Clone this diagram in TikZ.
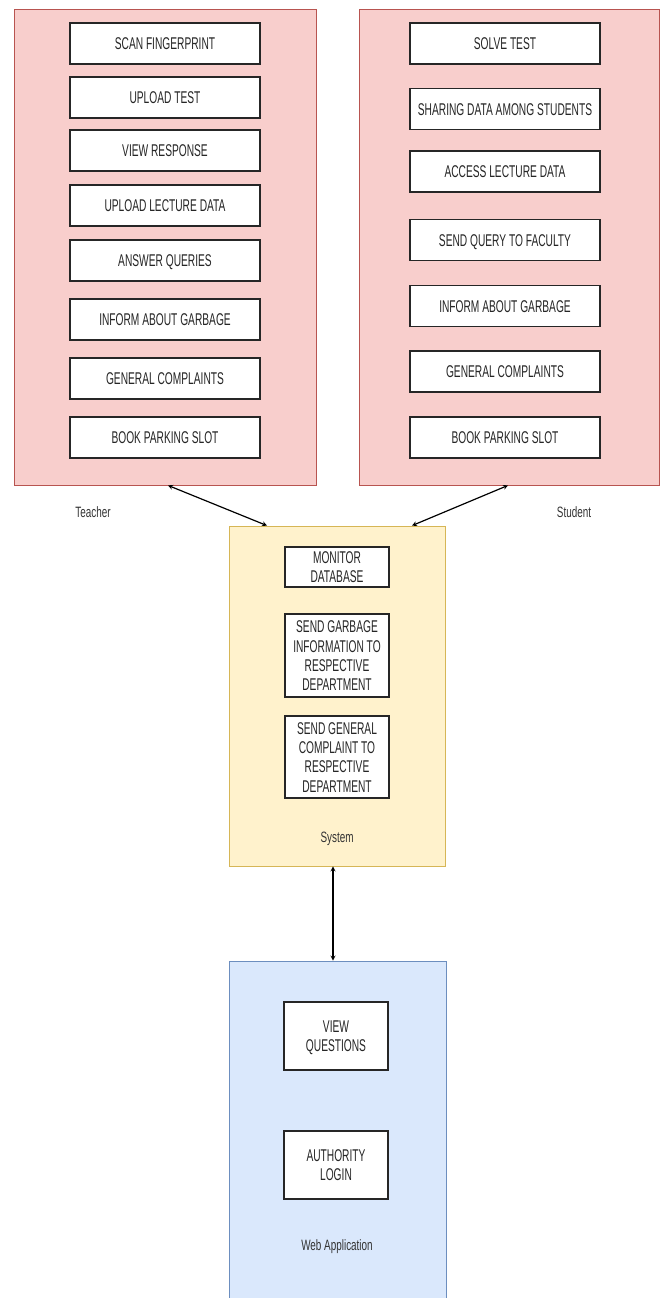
\documentclass[tikz,border=0pt]{standalone}
\usepackage{fontspec}
\setmainfont{Liberation Sans}
\usepackage{graphicx}
\usetikzlibrary{positioning, calc}

\definecolor{actorfill}{HTML}{F8CECC}
\definecolor{actorline}{HTML}{B85450}
\definecolor{sysfill}{HTML}{FFF2CC}
\definecolor{sysline}{HTML}{D6B656}
\definecolor{webfill}{HTML}{DAE8FC}
\definecolor{webline}{HTML}{6C8EBF}

% condensed text, as in the drawing tool export
\newcommand{\narrow}[1]{\raisebox{-2.4pt}[\height][\depth]{\scalebox{0.6}[1]{\begin{tabular}{@{}c@{}}#1\end{tabular}}}}
\newcommand{\narrowlbl}[1]{\scalebox{0.66}[1]{#1}}

\tikzset{
  panel/.style={draw, rectangle, line width=0.8pt, inner sep=0pt},
  task/.style={draw=black!85, fill=white, rectangle, line width=1.1pt, minimum width=190pt, minimum height=41pt, inner sep=0pt, text=black!85, font=\fontsize{17}{19.2}\selectfont},
  smalltask/.style={task, minimum width=104pt},
  caption/.style={inner sep=0pt, text=black!80, font=\fontsize{15}{17}\selectfont}
}

\begin{document}
\begin{tikzpicture}[x=1pt, y=-1pt, >=stealth]
  \useasboundingbox (0,0) rectangle (661,1298);

  % Teacher
  \node [panel, fill=actorfill, draw=actorline, minimum width=302pt, minimum height=476pt] (teacher) at (165,247) {};
  \node [caption] (teacherlbl) at (93,512) {\narrowlbl{Teacher}};
  \node [task] (scan) at (165,43.5) {\narrow{SCAN FINGERPRINT}};
  \node [task] (upload) at (165,97.5) {\narrow{UPLOAD TEST}};
  \node [task] (response) at (165,150.5) {\narrow{VIEW RESPONSE}};
  \node [task] (lecture) at (165,205.5) {\narrow{UPLOAD LECTURE DATA}};
  \node [task] (answer) at (165,260.5) {\narrow{ANSWER QUERIES}};
  \node [task] (tgarbage) at (165,319.5) {\narrow{INFORM ABOUT GARBAGE}};
  \node [task] (tcomplaint) at (165,378.5) {\narrow{GENERAL COMPLAINTS}};
  \node [task] (tparking) at (165,437.5) {\narrow{BOOK PARKING SLOT}};

  % Student
  \node [panel, fill=actorfill, draw=actorline, minimum width=300pt, minimum height=476pt] (student) at (509,247) {};
  \node [caption] (studentlbl) at (574,512) {\narrowlbl{Student}};
  \node [task] (solve) at (505,43.5) {\narrow{SOLVE TEST}};
  \node [task] (sharing) at (505,109) {\narrow{SHARING DATA AMONG STUDENTS}};
  \node [task] (access) at (505,171.5) {\narrow{ACCESS LECTURE DATA}};
  \node [task] (query) at (505,240) {\narrow{SEND QUERY TO FACULTY}};
  \node [task] (sgarbage) at (505,306) {\narrow{INFORM ABOUT GARBAGE}};
  \node [task] (scomplaint) at (505,371.5) {\narrow{GENERAL COMPLAINTS}};
  \node [task] (sparking) at (505,437.5) {\narrow{BOOK PARKING SLOT}};

  % System
  \node [panel, fill=sysfill, draw=sysline, minimum width=216pt, minimum height=340pt] (system) at (337,696) {};
  \node [caption] (systemlbl) at (337,839) {\narrowlbl{System}};
  \node [smalltask, minimum height=40pt] (monitor) at (337,567) {\narrow{MONITOR\\DATABASE}};
  \node [smalltask, minimum height=83pt] (garbageinfo) at (337,655.5) {\narrow{SEND GARBAGE\\INFORMATION TO\\RESPECTIVE\\DEPARTMENT}};
  \node [smalltask, minimum height=82pt] (complaintinfo) at (337,757) {\narrow{SEND GENERAL\\COMPLAINT TO\\RESPECTIVE\\DEPARTMENT}};

  % Web Application
  \node [panel, fill=webfill, draw=webline, minimum width=217pt, minimum height=339pt] (web) at (337.5,1130.5) {};
  \node [caption] (weblbl) at (337,1247) {\narrowlbl{Web Application}};
  \node [smalltask, minimum height=68pt] (questions) at (336,1036) {\narrow{VIEW\\QUESTIONS}};
  \node [smalltask, minimum height=68pt] (authority) at (336,1165) {\narrow{AUTHORITY\\LOGIN}};

  % Arrows
  \draw [<->, line width=1.2pt] ([xshift=3pt]teacher.south) -- ([xshift=-70pt]system.north);
  \draw [<->, line width=1.2pt] ([xshift=-1pt]student.south) -- ([xshift=75pt]system.north);
  \draw [<->, line width=1.2pt] ([xshift=-4pt]system.south) -- ([xshift=-4.5pt]web.north);
\end{tikzpicture}
\end{document}
